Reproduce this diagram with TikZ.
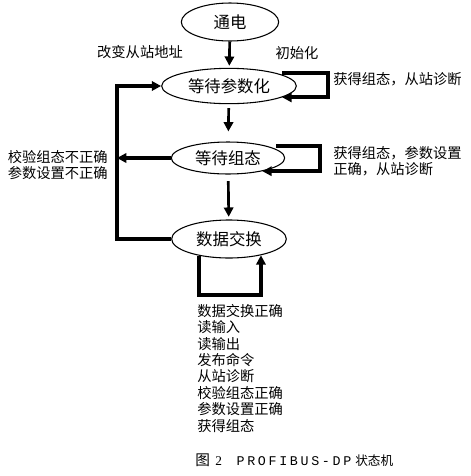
\documentclass[tikz,border=0pt]{standalone}
\usepackage{fontspec}
\setmainfont{Liberation Serif}
\newfontfamily\cjk{Noto Sans CJK SC}
\newfontfamily\capmono[LetterSpace=20]{Liberation Mono}
\usetikzlibrary{arrows.meta,positioning,calc,shapes.geometric}

\tikzset{
  state/.style={ellipse,draw,line width=0.8pt,inner sep=0pt,font=\cjk\fontsize{12.3}{14}\selectfont},
  lbl/.style={inner sep=0pt,align=left,font=\cjk\fontsize{10.7}{12.3}\selectfont},
  arr/.style={-{Triangle[length=7pt,width=7pt]},line width=2pt},
  loopline/.style={-{Triangle[length=7pt,width=7pt]},line width=3pt},
}

\begin{document}
\begin{tikzpicture}[x=0.75pt,y=-0.75pt]
    \useasboundingbox (0,0) rectangle (471,476);

    % states
    \node[state,minimum width=73pt,minimum height=28.5pt] (power) at (230,22) {通电};
    \node[state,minimum width=101pt,minimum height=26.5pt] (param) at (229,86) {等待参数化};
    \node[state,minimum width=85pt,minimum height=24pt] (config) at (228,158) {等待组态};
    \node[state,minimum width=86pt,minimum height=28.5pt] (exch) at (229,239) {数据交换};

    % helper points for the loops
    \coordinate (back) at (117,160);
    \coordinate (paramR) at (328,86);
    \coordinate (configR) at (320,158);
    \coordinate (exchB) at (230,295);

    % main path
    \draw[arr,shorten >=1.5pt] (power) -- (param);
    \draw[arr,shorten <=3pt,shorten >=7.5pt] (param) -- (config);
    \draw[arr,shorten <=5pt,shorten >=2pt] (config) -- (exch);

    % self loops
    \draw[loopline] ([xshift=4pt]param.north east) -| (paramR) |- (param.-12);
    \draw[loopline] ([xshift=6pt]config.north east) -| (configR) |- (config.-21);
    \draw[loopline] (exch.209) |- (exchB) -| (exch.-27);

    % back to parametrisation
    \draw[loopline] (exch.west) -| (back) |- (param.west);
    \draw[loopline] (config.west) -- (config.west -| back);

    % labels
    \node[lbl] (chaddr) at (140,52) {改变从站地址};
    \node[lbl] (init) at (297,53) {初始化};
    \node[lbl,anchor=west] (paramtxt) at (333,79) {获得组态，从站诊断};
    \node[lbl,anchor=west] (configtxt) at (333,161) {获得组态，参数设置\\正确，从站诊断};
    \node[lbl,anchor=east] (errtxt) at (108,165) {校验组态不正确\\参数设置不正确};
    \node[lbl,anchor=north west] (exchtxt) at (197,304) {数据交换正确\\读输入\\读输出\\发布命令\\从站诊断\\校验组态正确\\参数设置正确\\获得组态};

    % caption
    \node[anchor=west,inner sep=0pt,font=\fontsize{10}{11}\selectfont] (caption) at (195,460)
        {{\cjk\fontsize{11}{12}\selectfont 图}\hspace{4pt}2\hspace{11pt}{\capmono PROFIBUS-DP}\hspace{3pt}{\cjk\fontsize{9.5}{11}\selectfont 状态机}};
\end{tikzpicture}
\end{document}
